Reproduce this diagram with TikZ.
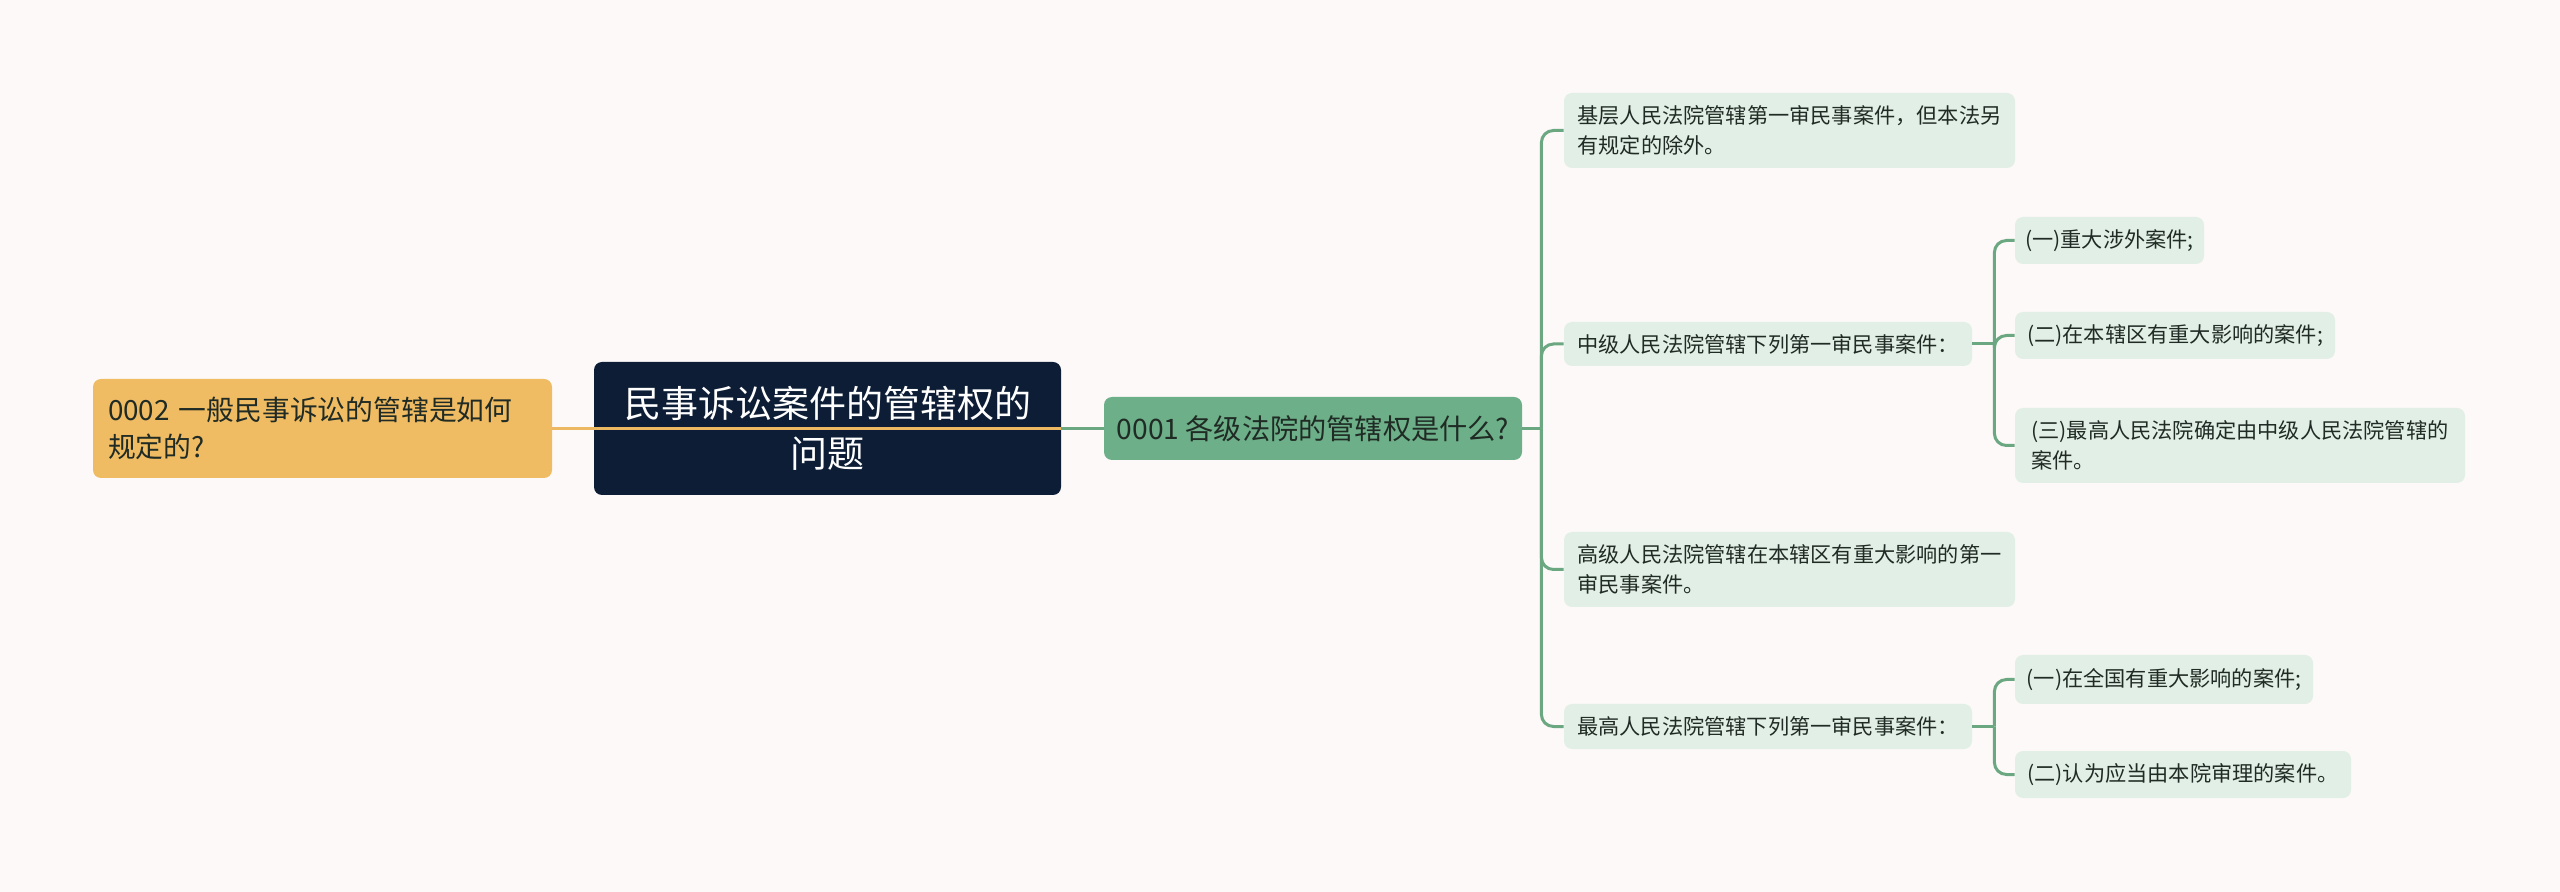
\documentclass[tikz,border=0pt]{standalone}
\usepackage{fontspec}
\setmainfont{Noto Sans CJK SC}
\usetikzlibrary{calc}
\definecolor{bgc}{HTML}{FDF9F8}
\definecolor{navy}{HTML}{0C1D35}
\definecolor{orangefill}{HTML}{F0BC63}
\definecolor{greenfill}{HTML}{6DAF88}
\definecolor{lightfill}{HTML}{E2EFE6}
\definecolor{linegreen}{HTML}{6BA882}
\definecolor{lineorange}{HTML}{EDB862}
\definecolor{txt}{HTML}{1F2B24}
\begin{document}
\begin{tikzpicture}[x=0.5pt,y=-0.5pt,
 box/.style={rounded corners=4pt, inner sep=0pt, text=txt},
 leaf/.style={box, fill=lightfill, align=left, font=\fontsize{10.6}{14.7}\selectfont},
 orangebox/.style={box, fill=orangefill, text width=214.5pt, inner xsep=7.5pt, minimum height=49.5pt, align=left, font=\fontsize{13.9}{18.8}\selectfont},
 rootbox/.style={box, fill=navy, text=white, minimum width=233.5pt, minimum height=66.5pt, align=center, font=\fontsize{18.5}{25.3}\selectfont},
 qbox/.style={box, fill=greenfill, minimum width=209pt, minimum height=31.5pt, font=\fontsize{14.1}{16}\selectfont},
 conn/.style={draw=linegreen, line width=1.5pt, rounded corners=6pt},
 orangeline/.style={draw=lineorange, line width=1.5pt}]
\fill[bgc] (0,0) rectangle (2560,892);
\useasboundingbox (0,0) rectangle (2560,892);

\node[orangebox] (q2) at (322.5,428.5) {0002 一般民事诉讼的管辖是如何\\规定的?};
\node[rootbox] (root) at (827.5,428.5) {民事诉讼案件的管辖权的\\问题};
\node[qbox] (q1) at (1313,428.5) {0001 各级法院的管辖权是什么?};

\node[leaf, minimum width=225.5pt, minimum height=37.5pt] (n1) at (1789.5,130.5) {基层人民法院管辖第一审民事案件，但本法另\\有规定的除外。};
\node[leaf, minimum width=204pt, minimum height=22pt] (n2) at (1768,344) {中级人民法院管辖下列第一审民事案件：};
\node[leaf, minimum width=225.5pt, minimum height=37.5pt] (n3) at (1789.5,569.5) {高级人民法院管辖在本辖区有重大影响的第一\\审民事案件。};
\node[leaf, minimum width=204pt, minimum height=22.5pt] (n4) at (1768,726.5) {最高人民法院管辖下列第一审民事案件：};

\node[leaf, minimum width=94.5pt, minimum height=23.5pt] (m1) at (2109.5,240.5) {(一)重大涉外案件;};
\node[leaf, minimum width=160pt, minimum height=23.5pt] (m2) at (2175,335.5) {(二)在本辖区有重大影响的案件;};
\node[leaf, minimum width=225pt, minimum height=37.5pt] (m3) at (2240,445.5) {(三)最高人民法院确定由中级人民法院管辖的\\案件。};
\node[leaf, minimum width=149pt, minimum height=24.5pt] (m4) at (2164,679.5) {(一)在全国有重大影响的案件;};
\node[leaf, minimum width=168pt, minimum height=23.5pt] (m5) at (2183,774.5) {(二)认为应当由本院审理的案件。};

\draw[orangeline] (q2.east) -- (root.east);
\draw[conn] (root.east) -- (q1.west);

\coordinate (s1) at ($(q1.east)+(19,0)$);
\draw[conn] (q1.east) -- (s1);
\foreach \n in {n1,n2,n3,n4} \draw[conn] (s1) |- (\n.west);

\coordinate (s2) at ($(n2.east)+(22,0)$);
\draw[conn] (n2.east) -- (s2);
\foreach \m in {m1,m2,m3} \draw[conn] (s2) |- (\m.west);

\coordinate (s3) at ($(n4.east)+(22,0)$);
\draw[conn] (n4.east) -- (s3);
\foreach \m in {m4,m5} \draw[conn] (s3) |- (\m.west);
\end{tikzpicture}
\end{document}
